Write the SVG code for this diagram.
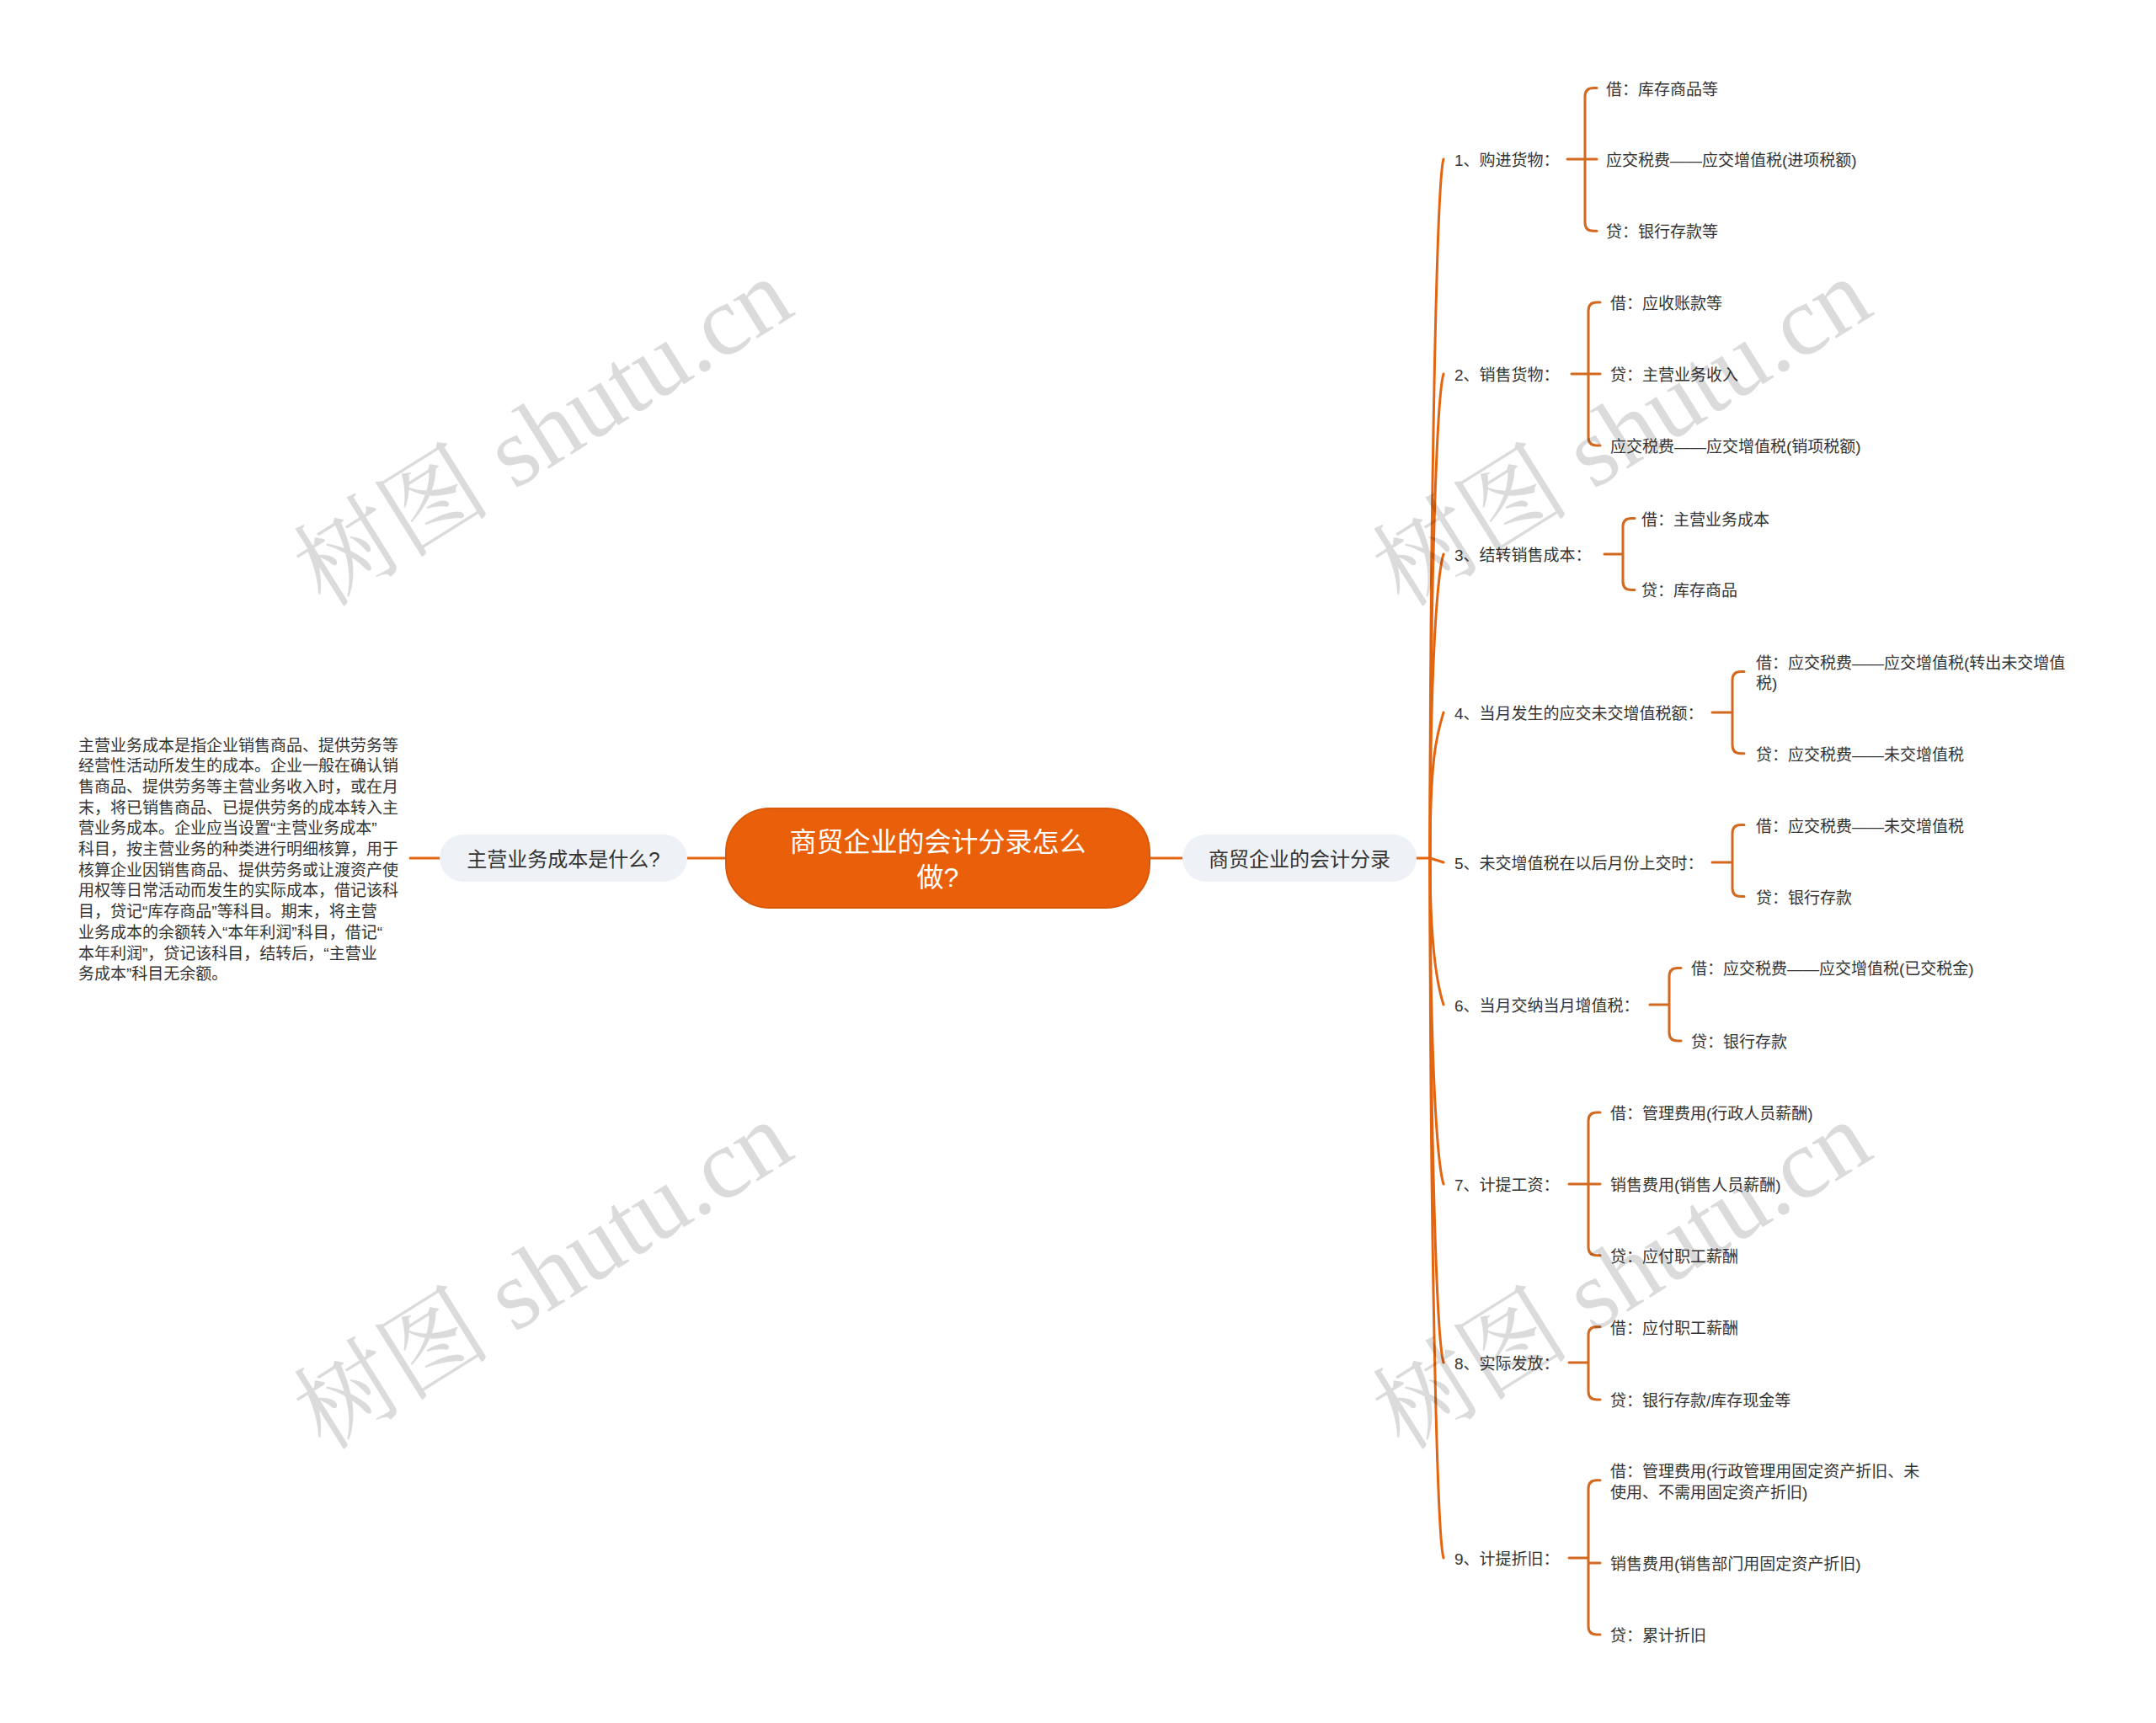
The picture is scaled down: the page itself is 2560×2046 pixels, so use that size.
<svg xmlns="http://www.w3.org/2000/svg" width="2560" height="2046" viewBox="0 0 2560 2046">
<style>
.t{font-family:"Liberation Sans","Noto Sans CJK SC",sans-serif;fill:#333;dominant-baseline:central;transform:translateY(1.5px)}
.s{font-size:19px}
.trunk{fill:none;stroke:#E4650F;stroke-width:3;stroke-linecap:round}
.br{fill:none;stroke:#D2691E;stroke-width:3;stroke-linecap:round}
.wm{font-family:"Liberation Serif","Noto Serif CJK SC",serif;font-size:118px;fill:#000;fill-opacity:0.14}
</style>
<rect width="2560" height="2046" fill="#fff"/>
<g id="connectors">
<path class="trunk" d="M816 1019 H862 M1365 1019 H1404 M487 1019 H522 M1682 1019 H1698"/>
<path class="trunk" d="M1698 1019 C1698 600 1706 215 1714 189"/>
<path class="trunk" d="M1698 1019 C1698 700 1706 470 1714 444"/>
<path class="trunk" d="M1698 1019 C1698 800 1706 684 1714 658"/>
<path class="trunk" d="M1698 1019 C1698 900 1706 872 1714 846"/>
<path class="trunk" d="M1698 1019 L1714 1024"/>
<path class="trunk" d="M1698 1019 C1698 1120 1706 1168 1714 1193"/>
<path class="trunk" d="M1698 1019 C1698 1250 1706 1380 1714 1406"/>
<path class="trunk" d="M1698 1019 C1698 1350 1706 1592 1714 1618"/>
<path class="trunk" d="M1698 1019 C1698 1450 1706 1824 1714 1850"/>
<path class="br" d="M1861 189 H1882 M1896 104.5 H1892 Q1882 104.5 1882 114.5 V264.3 Q1882 274.3 1892 274.3 H1896 M1882 189 H1896"/>
<path class="br" d="M1866 444 H1886 M1900 359 H1896 Q1886 359 1886 369 V519 Q1886 529 1896 529 H1900 M1886 444 H1900"/>
<path class="br" d="M1905 658 H1927 M1941 615.5 H1937 Q1927 615.5 1927 625.5 V690.4 Q1927 700.4 1937 700.4 H1941"/>
<path class="br" d="M2033 846 H2057 M2071 797.6 H2067 Q2057 797.6 2057 807.6 V884.7 Q2057 894.7 2067 894.7 H2071"/>
<path class="br" d="M2033 1024 H2057 M2071 979.6 H2067 Q2057 979.6 2057 989.6 V1054.5 Q2057 1064.5 2067 1064.5 H2071"/>
<path class="br" d="M1959 1193 H1982 M1996 1149.4 H1992 Q1982 1149.4 1982 1159.4 V1226 Q1982 1236 1992 1236 H1996"/>
<path class="br" d="M1863 1406 H1886 M1900 1320.9 H1896 Q1886 1320.9 1886 1330.9 V1480.7 Q1886 1490.7 1896 1490.7 H1900 M1886 1406 H1900"/>
<path class="br" d="M1863 1618 H1886 M1900 1575.5 H1896 Q1886 1575.5 1886 1585.5 V1652 Q1886 1662 1896 1662 H1900"/>
<path class="br" d="M1863 1850 H1886 M1900 1757.7 H1896 Q1886 1757.7 1886 1767.7 V1931 Q1886 1941 1896 1941 H1900 M1886 1856 H1900"/>
</g>
<g id="watermarks">
<text class="wm" transform="translate(645 514) rotate(-32)" text-anchor="middle" dominant-baseline="central">树图 shutu.cn</text>
<text class="wm" transform="translate(1926 514) rotate(-32)" text-anchor="middle" dominant-baseline="central">树图 shutu.cn</text>
<text class="wm" transform="translate(645 1515) rotate(-32)" text-anchor="middle" dominant-baseline="central">树图 shutu.cn</text>
<text class="wm" transform="translate(1926 1515) rotate(-32)" text-anchor="middle" dominant-baseline="central">树图 shutu.cn</text>
</g>
<g id="root">
<rect x="862" y="960" width="503" height="118" rx="52" fill="#EA600A" stroke="#D9580A" stroke-width="2"/>
<text class="t" x="1113.5" y="998" text-anchor="middle" font-size="32" style="fill:#fff">商贸企业的会计分录怎么</text>
<text class="t" x="1113.5" y="1040" text-anchor="middle" font-size="32" style="fill:#fff">做?</text>
</g>
<g id="node-left">
<rect x="522" y="991" width="294" height="56" rx="28" fill="#EEF1F5"/>
<text class="t" x="669" y="1019" text-anchor="middle" font-size="24">主营业务成本是什么?</text>
</g>
<g id="node-left-text">
<text class="t s" x="93">
<tspan x="93" y="883">主营业务成本是指企业销售商品、提供劳务等</tspan>
<tspan x="93" y="907.7">经营性活动所发生的成本。企业一般在确认销</tspan>
<tspan x="93" y="932.4">售商品、提供劳务等主营业务收入时，或在月</tspan>
<tspan x="93" y="957.1">末，将已销售商品、已提供劳务的成本转入主</tspan>
<tspan x="93" y="981.8">营业务成本。企业应当设置“主营业务成本”</tspan>
<tspan x="93" y="1006.5">科目，按主营业务的种类进行明细核算，用于</tspan>
<tspan x="93" y="1031.2">核算企业因销售商品、提供劳务或让渡资产使</tspan>
<tspan x="93" y="1055.9">用权等日常活动而发生的实际成本，借记该科</tspan>
<tspan x="93" y="1080.6">目，贷记“库存商品”等科目。期末，将主营</tspan>
<tspan x="93" y="1105.3">业务成本的余额转入“本年利润”科目，借记“</tspan>
<tspan x="93" y="1130">本年利润”，贷记该科目，结转后，“主营业</tspan>
<tspan x="93" y="1154.7">务成本”科目无余额。</tspan>
</text>
</g>
<g id="node-right">
<rect x="1404" y="991" width="278" height="56" rx="28" fill="#EEF1F5"/>
<text class="t" x="1543" y="1019" text-anchor="middle" font-size="24">商贸企业的会计分录</text>
</g>
<g id="c1"><text class="t s" x="1727" y="189">1、购进货物：</text></g>
<g id="c1-1"><text class="t s" x="1907" y="104.5">借：库存商品等</text></g>
<g id="c1-2"><text class="t s" x="1907" y="189">应交税费——应交增值税(进项税额)</text></g>
<g id="c1-3"><text class="t s" x="1907" y="274.3">贷：银行存款等</text></g>
<g id="c2"><text class="t s" x="1727" y="444">2、销售货物：</text></g>
<g id="c2-1"><text class="t s" x="1912" y="359">借：应收账款等</text></g>
<g id="c2-2"><text class="t s" x="1912" y="444">贷：主营业务收入</text></g>
<g id="c2-3"><text class="t s" x="1912" y="529">应交税费——应交增值税(销项税额)</text></g>
<g id="c3"><text class="t s" x="1727" y="658">3、结转销售成本：</text></g>
<g id="c3-1"><text class="t s" x="1949" y="615.5">借：主营业务成本</text></g>
<g id="c3-2"><text class="t s" x="1949" y="700.4">贷：库存商品</text></g>
<g id="c4"><text class="t s" x="1727" y="846">4、当月发生的应交未交增值税额：</text></g>
<g id="c4-1"><text class="t s" x="2085"><tspan x="2085" y="785.3">借：应交税费——应交增值税(转出未交增值</tspan><tspan x="2085" y="809.9">税)</tspan></text></g>
<g id="c4-2"><text class="t s" x="2085" y="894.7">贷：应交税费——未交增值税</text></g>
<g id="c5"><text class="t s" x="1727" y="1024">5、未交增值税在以后月份上交时：</text></g>
<g id="c5-1"><text class="t s" x="2085" y="979.6">借：应交税费——未交增值税</text></g>
<g id="c5-2"><text class="t s" x="2085" y="1064.5">贷：银行存款</text></g>
<g id="c6"><text class="t s" x="1727" y="1193">6、当月交纳当月增值税：</text></g>
<g id="c6-1"><text class="t s" x="2008" y="1149.4">借：应交税费——应交增值税(已交税金)</text></g>
<g id="c6-2"><text class="t s" x="2008" y="1236">贷：银行存款</text></g>
<g id="c7"><text class="t s" x="1727" y="1406">7、计提工资：</text></g>
<g id="c7-1"><text class="t s" x="1912" y="1320.9">借：管理费用(行政人员薪酬)</text></g>
<g id="c7-2"><text class="t s" x="1912" y="1405.8">销售费用(销售人员薪酬)</text></g>
<g id="c7-3"><text class="t s" x="1912" y="1490.7">贷：应付职工薪酬</text></g>
<g id="c8"><text class="t s" x="1727" y="1618">8、实际发放：</text></g>
<g id="c8-1"><text class="t s" x="1912" y="1575.5">借：应付职工薪酬</text></g>
<g id="c8-2"><text class="t s" x="1912" y="1662">贷：银行存款/库存现金等</text></g>
<g id="c9"><text class="t s" x="1727" y="1850">9、计提折旧：</text></g>
<g id="c9-1"><text class="t s" x="1912"><tspan x="1912" y="1745.4">借：管理费用(行政管理用固定资产折旧、未</tspan><tspan x="1912" y="1770">使用、不需用固定资产折旧)</tspan></text></g>
<g id="c9-2"><text class="t s" x="1912" y="1856">销售费用(销售部门用固定资产折旧)</text></g>
<g id="c9-3"><text class="t s" x="1912" y="1941">贷：累计折旧</text></g>
</svg>
